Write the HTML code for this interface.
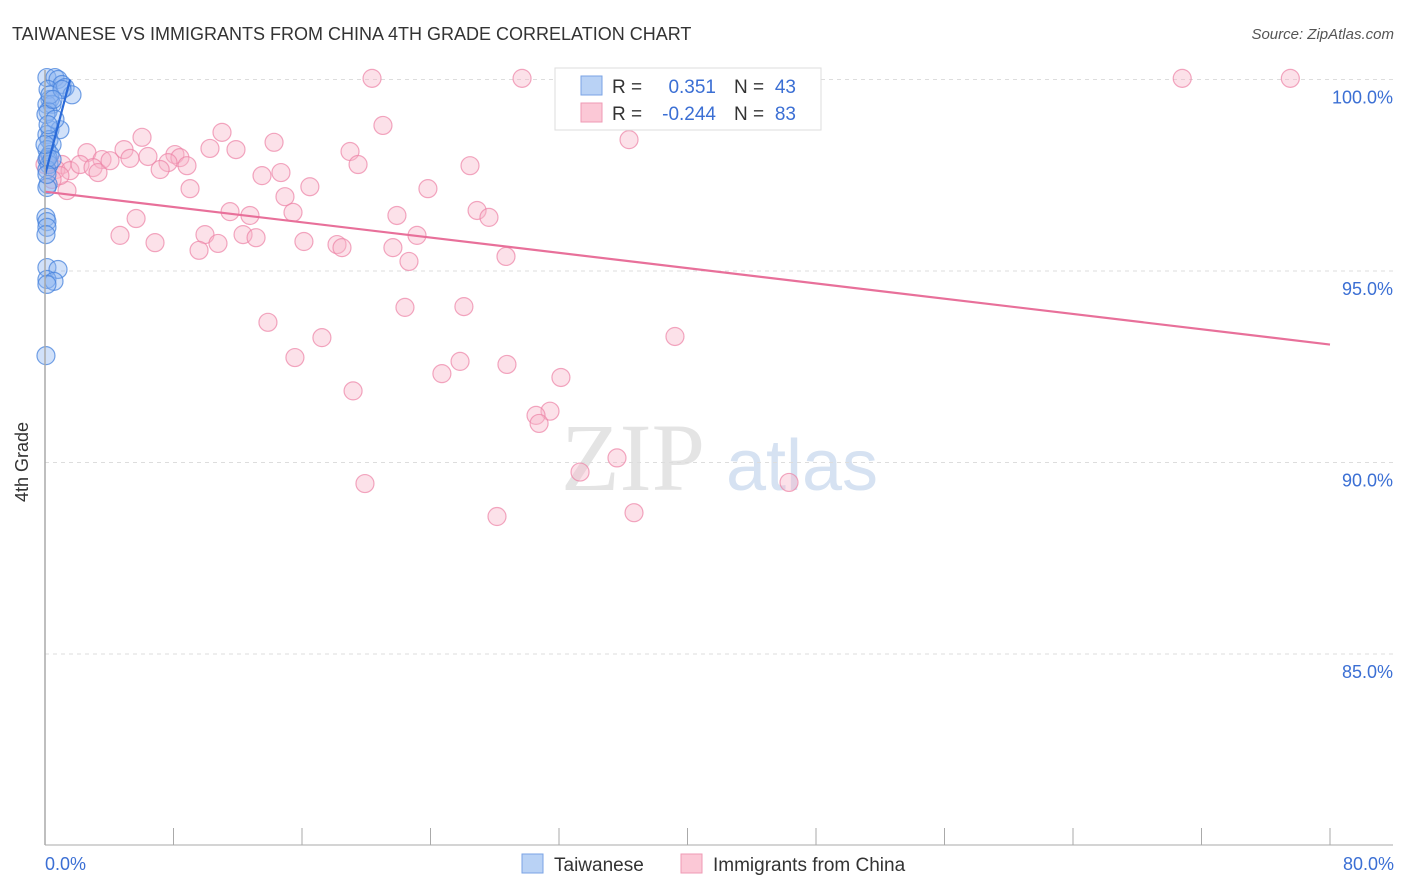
<!DOCTYPE html>
<html><head><meta charset="utf-8"><style>
body{margin:0;background:#fff;font-family:"Liberation Sans",sans-serif;}
#wrap{position:relative;width:1406px;height:892px;overflow:hidden;}
</style></head><body>
<div id="wrap">
<svg id="svg" width="1406" height="892" xmlns="http://www.w3.org/2000/svg">
<text x="12" y="40" font-size="18" fill="#333">TAIWANESE VS IMMIGRANTS FROM CHINA 4TH GRADE CORRELATION CHART</text>
<text x="1394" y="39" font-size="15" fill="#555" font-style="italic" text-anchor="end">Source: ZipAtlas.com</text>
<text x="633" y="490" font-size="96" fill="#e4e4e4" font-family="Liberation Serif,serif" text-anchor="middle">ZIP</text>
<text x="802" y="490" font-size="72" fill="#d6e2f2" text-anchor="middle">atlas</text>
<g id="grid"></g>
<g id="pts"></g>
<g id="lines"></g>
<line x1="45" y1="70" x2="45" y2="845" stroke="#aaa" stroke-width="1.5"/>
<line x1="45" y1="845" x2="1393" y2="845" stroke="#aaa" stroke-width="1"/>
<g id="ticks"></g>
<text x="22" y="456" font-size="18" fill="#333" transform="rotate(-90 28 456)" text-anchor="middle">4th Grade</text>
<text x="45" y="870" font-size="18" fill="#3b6fd4">0.0%</text>
<text x="1394" y="870" font-size="18" fill="#3b6fd4" text-anchor="end">80.0%</text>
<g>
<rect x="555" y="68" width="266" height="62" fill="#fff" stroke="#ddd"/>
<rect x="581" y="76" width="21" height="19" fill="#b9d2f5" stroke="#7aa3e5"/>
<rect x="581" y="103" width="21" height="19" fill="#fbc8d6" stroke="#ef9ab4"/>
<text x="612" y="93" font-size="19" fill="#333">R =</text>
<text x="716" y="93" font-size="19" fill="#3b6fd4" text-anchor="end">0.351</text>
<text x="734" y="93" font-size="19" fill="#333">N =</text>
<text x="796" y="93" font-size="19" fill="#3b6fd4" text-anchor="end">43</text>
<text x="612" y="120" font-size="19" fill="#333">R =</text>
<text x="716" y="120" font-size="19" fill="#3b6fd4" text-anchor="end">-0.244</text>
<text x="734" y="120" font-size="19" fill="#333">N =</text>
<text x="796" y="120" font-size="19" fill="#3b6fd4" text-anchor="end">83</text>
</g>
<g>
<rect x="522" y="854" width="21" height="19" fill="#b9d2f5" stroke="#7aa3e5"/>
<text x="554" y="871" font-size="19" fill="#333">Taiwanese</text>
<rect x="681" y="854" width="21" height="19" fill="#fbc8d6" stroke="#ef9ab4"/>
<text x="713" y="871" font-size="19" fill="#333">Immigrants from China</text>
</g>
</svg>
</div>
<script>
const NS="http://www.w3.org/2000/svg";
const yTicks=[100,95,90,85];
const yTickLabels=["100.0%","95.0%","90.0%","85.0%"];
const xTicks=[0,8,16,24,32,40,48,56,64,72,80];
// Taiwanese points [x%, grade%]
const blueX=[0.12,0.62,0.81,1.06,1.25,1.68,0.19,0.31,0.12,0.44,0.19,0.31,0.93,0.12,0.25,0.44,0.12,0.31,0.12,0.25,0.12,0.19,0.12,0.06,0.12,0.12,0.06,0.12,0.81,0.12,0.56,0.12,0.06,0.19,0.44,0.06,0.62,0.19,0.12,0.31,1.06,0.0,0.5];
const blueY=[100.05,100.05,100.0,99.87,99.79,99.6,99.74,99.48,99.35,99.35,99.17,98.69,98.69,98.56,98.43,98.3,98.17,98.04,97.91,97.78,97.65,97.26,97.18,96.4,96.29,96.14,95.95,95.09,95.04,94.78,94.73,94.65,92.79,97.96,97.91,99.09,98.96,98.82,97.52,99.6,99.74,98.3,99.48];
// Immigrants from China points
const pinkX=[20.36,29.7,32.87,70.8,77.53,21.04,36.36,6.04,11.02,14.26,4.92,2.61,3.55,5.29,6.41,8.09,8.4,7.66,8.84,7.17,10.27,11.89,18.99,19.49,26.46,1.06,0.68,1.56,2.18,2.99,3.3,4.05,14.69,13.51,9.03,1.37,14.94,16.49,23.84,11.52,12.76,15.44,21.91,26.9,27.64,5.67,4.67,6.85,9.96,10.77,12.33,13.14,16.12,18.18,18.49,21.66,23.16,22.66,28.7,9.59,13.88,17.24,22.41,26.08,39.22,15.56,25.84,28.76,24.71,32.12,19.18,31.44,30.57,30.76,33.31,35.61,19.92,46.32,28.14,36.67,0.93,0.0,0.44];
const pinkY=[100.03,100.03,100.03,100.03,100.03,98.8,98.43,98.49,98.62,98.36,98.17,98.09,97.91,97.94,97.99,98.04,97.96,97.83,97.75,97.65,98.2,98.17,98.12,97.78,97.75,97.78,97.65,97.62,97.78,97.7,97.57,97.88,97.57,97.49,97.15,97.1,96.94,97.2,97.15,96.55,96.45,96.53,96.45,96.58,96.4,96.37,95.93,95.74,95.95,95.72,95.95,95.87,95.77,95.69,95.61,95.61,95.93,95.25,95.38,95.54,93.66,93.26,94.05,94.07,93.29,92.74,92.64,92.56,92.32,92.22,91.87,91.34,91.23,91.02,89.75,90.12,89.45,89.48,88.59,88.69,97.49,97.78,97.39];
const blueTrend=[[0,97.5],[1.56,100.0]];
const pinkTrend=[[0,97.07],[80,93.08]];
const X=v=>45+v/80*1285;
const Y=v=>79.5+(100-v)/5*191.5;
const grid=document.getElementById('grid'),ticks=document.getElementById('ticks');
yTicks.forEach((t,i)=>{
 const l=document.createElementNS(NS,'line');
 l.setAttribute('x1',45);l.setAttribute('x2',1393);l.setAttribute('y1',Y(t));l.setAttribute('y2',Y(t));
 l.setAttribute('stroke','#ddd');l.setAttribute('stroke-dasharray','4,4');
 
 
 grid.appendChild(l);
 const tx=document.createElementNS(NS,'text');
 tx.setAttribute('x',1393);tx.setAttribute('y',Y(t)+24);tx.setAttribute('text-anchor','end');
 tx.setAttribute('font-size','18');tx.setAttribute('fill','#3b6fd4');tx.textContent=yTickLabels[i];
 
 
 grid.appendChild(tx);
});
xTicks.forEach(t=>{
 const l=document.createElementNS(NS,'line');
 l.setAttribute('x1',X(t));l.setAttribute('x2',X(t));l.setAttribute('y1',828);l.setAttribute('y2',845);
 l.setAttribute('stroke','#aaa');
 
 
 ticks.appendChild(l);
});
const pts=document.getElementById('pts');
function dots(xs,ys,fill,stroke,name){
 xs.forEach((x,i)=>{
  const c=document.createElementNS(NS,'circle');
  c.setAttribute('cx',X(x));c.setAttribute('cy',Y(ys[i]));c.setAttribute('r',9);
  c.setAttribute('fill',fill);c.setAttribute('stroke',stroke);c.setAttribute('stroke-width','1.2');
  
  
  pts.appendChild(c);
 });
}
dots(pinkX,pinkY,'rgba(248,180,200,0.4)','rgba(236,130,165,0.7)','china-point');
dots(blueX,blueY,'rgba(140,180,240,0.4)','rgba(70,130,220,0.75)','taiwanese-point');
const lines=document.getElementById('lines');
function tl(p,col,name){
 const l=document.createElementNS(NS,'line');
 l.setAttribute('x1',X(p[0][0]));l.setAttribute('y1',Y(p[0][1]));l.setAttribute('x2',X(p[1][0]));l.setAttribute('y2',Y(p[1][1]));
 l.setAttribute('stroke',col);l.setAttribute('stroke-width','2.2');
 
 
 lines.appendChild(l);
}
tl(pinkTrend,'#e8709a','china-trend-line');
tl(blueTrend,'#2a6ad8','taiwanese-trend-line');
</script>
</body></html>
